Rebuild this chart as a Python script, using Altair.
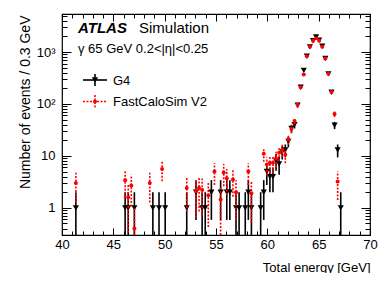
import altair as alt
import numpy as np
import pandas as pd

# ---------------- data (bin centres, 0.3 GeV bins) ----------------
g4_x = [41.35, 46.15, 46.45, 47.05, 48.85, 49.45, 50.05, 52.15, 53.05, 53.65,
        53.95, 54.55, 55.45, 56.05, 56.35, 56.95, 57.25, 57.85, 58.15, 58.45,
        59.35, 59.65, 59.95, 60.25, 60.55, 60.85, 61.15, 61.45, 61.75, 62.05,
        62.35, 62.65, 62.95, 63.25, 63.55, 63.85, 64.15, 64.45, 64.75, 65.05,
        65.35, 65.65, 65.95, 66.25, 66.55, 66.85, 67.15]
g4_y = [1, 1, 1, 1, 1, 1, 1, 1, 2, 1,
        1, 2, 2, 2, 2, 1, 1, 1, 2, 1,
        1, 2, 5, 4, 4, 8, 7, 12, 13, 19,
        34, 40, 95, 210, 445, 830, 1260, 1650, 1950, 1700,
        1290, 750, 380, 168, 39, 13, 1]

fcs_x = [41.35, 46.15, 46.45, 46.75, 47.05, 48.55, 49.75, 52.15, 53.05, 53.35,
         53.65, 54.25, 54.85, 55.45, 55.75, 56.05, 56.65, 56.95, 58.15, 58.45,
         59.65, 59.95, 60.25, 60.55, 60.85, 61.15, 61.45, 61.75, 62.05, 62.35,
         62.65, 62.95, 63.25, 63.55, 63.85, 64.15, 64.45, 64.75, 65.05, 65.35,
         65.65, 65.95, 66.25, 66.55, 66.85]
fcs_y = [3.0, 3.4, 1.6, 2.7, 0.4, 3.0, 5.6, 2.4, 2.1, 2.4,
         2.2, 1.75, 5.0, 1.45, 4.8, 3.7, 3.5, 2.0, 5.0, 1.9,
         11, 6.8, 7.4, 7.4, 9.0, 11.5, 13, 10.5, 21, 33,
         47, 97, 210, 370, 830, 1260, 1650, 1850, 1650, 1260,
         750, 380, 170, 64, 3.2]

x_major = [40, 45, 50, 55, 60, 65, 70]
x_minor = [v for v in range(40, 71) if v % 5 != 0]
y_major = [1, 10, 100, 1000]
y_major_labels = ["1", "10", "10²", "10³"]
y_minor = [0.3, 0.4, 0.5, 0.6, 0.7, 0.8, 0.9,
           2, 3, 4, 5, 6, 7, 8, 9,
           20, 30, 40, 50, 60, 70, 80, 90,
           200, 300, 400, 500, 600, 700, 800, 900,
           2000, 3000, 4000, 5000]

series_names = ["G4", "FastCaloSim V2"]
atlas_label = "ATLAS"
sim_label = "Simulation"
sel_label = "γ 65 GeV 0.2<|η|<0.25"
x_title = "Total energy [GeV]"
y_title = "Number of events / 0.3 GeV"

YMIN, YMAX = 0.3, 5400
FONT = "Liberation Sans"


def make_df(xs, ys):
    y = np.array(ys, dtype=float)
    err = np.sqrt(y)
    return pd.DataFrame({"x": xs, "y": y,
                         "lo": np.maximum(y - err, YMIN),
                         "hi": y + err})


df_g4 = make_df(g4_x, g4_y)
df_fcs = make_df(fcs_x, fcs_y)

x_scale = alt.Scale(domain=[40, 70], nice=False, zero=False)
y_scale = alt.Scale(type="log", domain=[YMIN, YMAX], nice=False)

label_expr = " : ".join(
    f"datum.value == {v} ? '{l}'" for v, l in zip(y_major, y_major_labels)
) + " : ''"


def xaxis(orient, values, size, labels=False, title=None):
    kw = dict(orient=orient, values=values, tickSize=size, offset=-size,
              domain=False, grid=False, labels=labels, tickColor="black",
              tickWidth=1, title=title)
    if labels:
        kw.update(labelFont=FONT, labelFontSize=13, labelColor="black",
                  labelPadding=3, labelFlush=False, labelOverlap=False)
    if title:
        kw.update(titleFont=FONT, titleFontSize=13, titleColor="black",
                  titleFontWeight="normal", titleX=308, titleY=43,
                  titleAlign="right", titleBaseline="alphabetic",
                  titleAnchor="end")
    return alt.Axis(**kw)


def yaxis(orient, values, size, labels=False, title=None):
    kw = dict(orient=orient, values=values, tickSize=size, offset=-size,
              domain=False, grid=False, labels=labels, tickColor="black",
              tickWidth=1, title=title)
    if labels:
        kw.update(labelFont=FONT, labelFontSize=13, labelColor="black",
                  labelPadding=7, labelExpr=label_expr, labelFlush=False,
                  labelOverlap=False)
    if title:
        kw.update(titleFont=FONT, titleFontSize=14, titleColor="black",
                  titleFontWeight="normal", titleX=-42, titleY=1,
                  titleAngle=270, titleAlign="right",
                  titleBaseline="alphabetic", titleAnchor="end")
    return alt.Axis(**kw)


g4_bars = alt.Chart(df_g4).mark_rule(color="black", strokeWidth=1.6).encode(
    x=alt.X("x:Q", scale=x_scale, axis=xaxis("bottom", x_major, 7, True, x_title)),
    y=alt.Y("lo:Q", scale=y_scale, axis=yaxis("left", y_major, 9, True, y_title)),
    y2="hi:Q",
)
g4_pts = alt.Chart(df_g4).mark_point(shape="triangle-down", filled=True,
                                     color="black", size=38, opacity=1).encode(
    x=alt.X("x:Q", scale=x_scale, axis=xaxis("bottom", x_minor, 4)),
    y=alt.Y("y:Q", scale=y_scale, axis=yaxis("left", y_minor, 5)),
)
fcs_bars = alt.Chart(df_fcs).mark_rule(color="#ff0000", strokeWidth=1.6,
                                       strokeDash=[2, 1.5]).encode(
    x=alt.X("x:Q", scale=x_scale, axis=xaxis("top", x_major, 7)),
    y=alt.Y("lo:Q", scale=y_scale, axis=yaxis("right", y_major, 9)),
    y2="hi:Q",
)
fcs_pts = alt.Chart(df_fcs).mark_point(shape="circle", filled=True,
                                       color="#ff0000", size=16, opacity=1).encode(
    x=alt.X("x:Q", scale=x_scale, axis=xaxis("top", x_minor, 4)),
    y=alt.Y("y:Q", scale=y_scale, axis=yaxis("right", y_minor, 5)),
)

one = pd.DataFrame({"a": [0]})


def text_layer(txt, x, y, size, **kw):
    return alt.Chart(pd.DataFrame({"t": [txt]})).mark_text(
        align="left", baseline="alphabetic", font=FONT, fontSize=size,
        color="black", **kw).encode(x=alt.value(x), y=alt.value(y), text="t:N")


atlas = text_layer(atlas_label, 16, 19, 15, fontWeight="bold", fontStyle="italic")
sim = text_layer(sim_label, 77, 19, 15)
sel = text_layer(sel_label, 16, 39, 13)

# legend
leg_g4_h = alt.Chart(one).mark_rule(color="black", strokeWidth=1.6).encode(
    x=alt.value(21), x2=alt.value(45), y=alt.value(66))
leg_g4_v = alt.Chart(one).mark_rule(color="black", strokeWidth=1.6).encode(
    x=alt.value(33), y=alt.value(60), y2=alt.value(72))
leg_g4_p = alt.Chart(one).mark_point(shape="triangle-down", filled=True,
                                     color="black", size=38, opacity=1).encode(
    x=alt.value(33), y=alt.value(66))
leg_g4_t = text_layer(series_names[0], 51, 71, 13)

leg_f_h = alt.Chart(one).mark_rule(color="#ff0000", strokeWidth=1.6,
                                   strokeDash=[2, 1.5]).encode(
    x=alt.value(21), x2=alt.value(45), y=alt.value(87.5))
leg_f_v = alt.Chart(one).mark_rule(color="#ff0000", strokeWidth=1.6,
                                   strokeDash=[2, 1.5]).encode(
    x=alt.value(33), y=alt.value(81), y2=alt.value(94))
leg_f_p = alt.Chart(one).mark_point(shape="circle", filled=True,
                                    color="#ff0000", size=16, opacity=1).encode(
    x=alt.value(33), y=alt.value(87.5))
leg_f_t = text_layer(series_names[1], 51, 92, 13)

chart = alt.layer(
    g4_bars, g4_pts, fcs_bars, fcs_pts,
    atlas, sim, sel,
    leg_g4_h, leg_g4_v, leg_g4_p, leg_g4_t,
    leg_f_h, leg_f_v, leg_f_p, leg_f_t,
).resolve_axis(x="independent", y="independent").properties(
    width=308, height=221,
    autosize=alt.AutoSizeParams(type="none"),
    padding={"left": 54, "top": 6, "right": 12, "bottom": 38},
    background="white",
).configure_view(stroke="black", strokeWidth=1.2)

chart.save("out.html", embed_options={"renderer": "svg", "actions": False})
